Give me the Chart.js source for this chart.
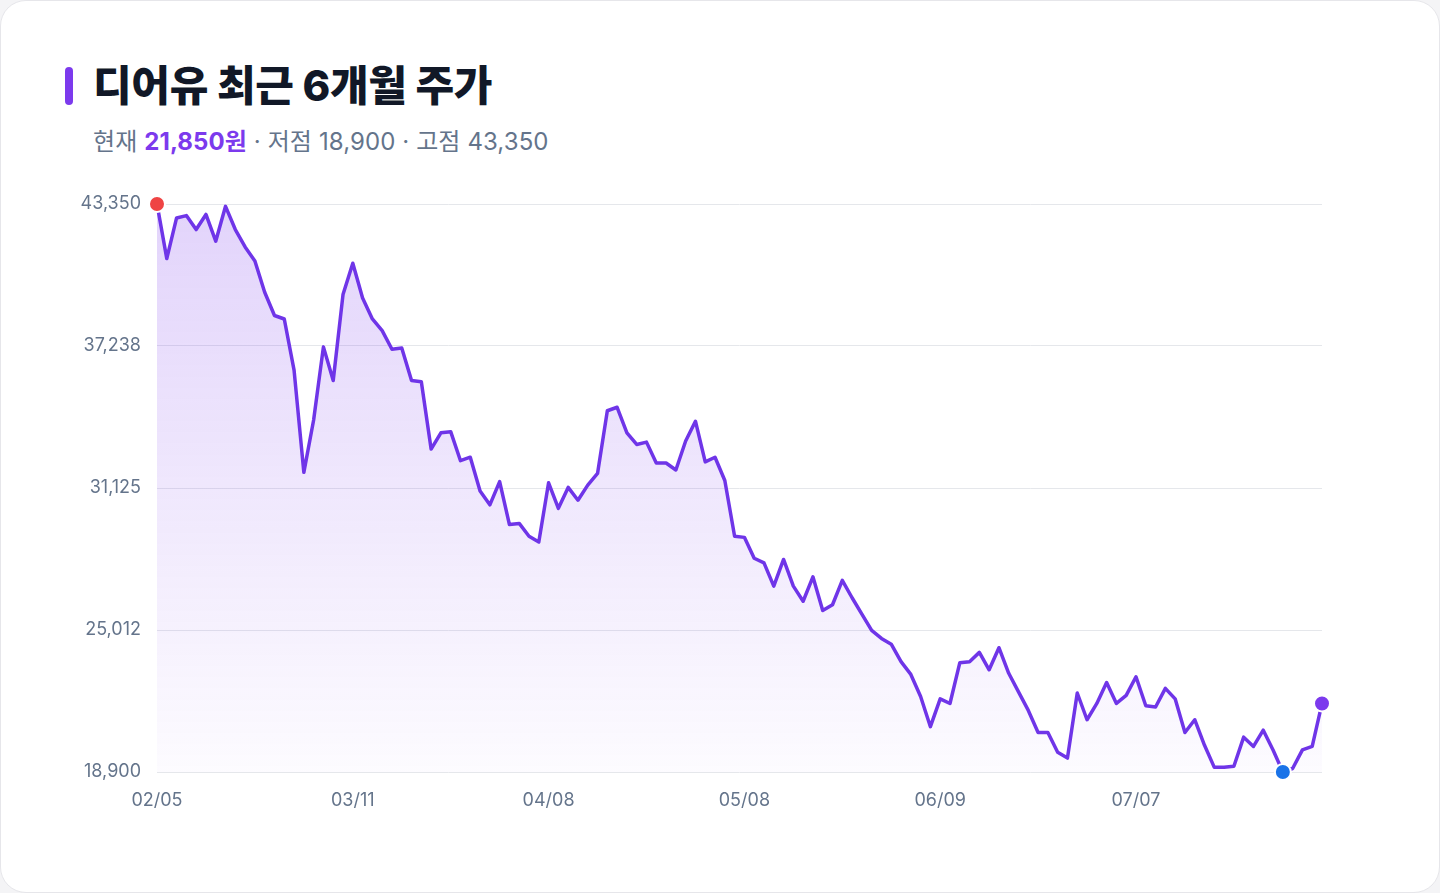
<!DOCTYPE html>
<html lang="ko">
<head>
<meta charset="utf-8">
<script src="https://cdn.jsdelivr.net/npm/chart.js@4.4.1/dist/chart.umd.min.js"></script>
<style>
  html, body { margin: 0; padding: 0; background: #f4f4f6; }
  body { width: 1440px; height: 893px; overflow: hidden; font-family: Inter, "Noto Sans CJK KR", sans-serif; }
  .card { position: absolute; left: 0; top: 0; width: 1438px; height: 891px; background: #fff;
          border: 1px solid #e6e6ea; border-radius: 26px; }
  .bar { position: absolute; left: 65px; top: 67px; width: 8px; height: 38px; border-radius: 4px; background: #7c3aed; }
  h1 { position: absolute; left: 93px; top: 57px; margin: 0; font-size: 42px; line-height: 58px; font-weight: 800;
       color: #111827; letter-spacing: -0.3px; font-family: Inter, "Noto Sans CJK KR", sans-serif; }
  .sub { position: absolute; left: 93px; top: 125px; margin: 0; font-size: 24px; line-height: 34px; color: #64748b; letter-spacing: 0.1px; }
  .sub b { color: #7c3aed; font-weight: 700; }
  .wrap { position: absolute; left: 0; top: 0; width: 1440px; height: 893px; }
</style>
</head>
<body>
<div class="card"></div>
<div class="bar"></div>
<h1>디어유 최근 6개월 주가</h1>
<p class="sub">현재 <b>21,850원</b> · 저점 18,900 · 고점 43,350</p>
<div class="wrap"><canvas id="priceChart"></canvas></div>
<script>
// 종가 (120 거래일)
const prices = [
  43350, 41000, 42750, 42850, 42250, 42900, 41750, 43250, 42250, 41500,
  40900, 39550, 38550, 38400, 36200, 31800, 34050, 37200, 35750, 39450,
  40800, 39300, 38400, 37900, 37100, 37150, 35750, 35700, 32800, 33500,
  33550, 32300, 32450, 31000, 30400, 31400, 29550, 29600, 29050, 28800,
  31350, 30250, 31150, 30600, 31250, 31750, 34450, 34600, 33500, 33000,
  33100, 32200, 32200, 31900, 33150, 34000, 32250, 32450, 31450, 29050,
  29000, 28100, 27900, 26900, 28050, 26900, 26250, 27300, 25850, 26100,
  27150, 26400, 25700, 25000, 24650, 24400, 23650, 23100, 22150, 20850,
  22050, 21850, 23600, 23650, 24050, 23300, 24250, 23150, 22350, 21550,
  20600, 20600, 19750, 19500, 22300, 21150, 21850, 22750, 21850, 22200,
  23000, 21750, 21700, 22500, 22050, 20600, 21150, 20050, 19100, 19100,
  19150, 20400, 20000, 20700, 19850, 18900, 19050, 19850, 20000, 21850
];
// x축 표시 날짜 (20거래일 간격)
const tickLabels = ['02/05', '03/11', '04/08', '05/08', '06/09', '07/07'];
const tickEvery = 20;
// y축 눈금
const yTicks = [18900, 25012, 31125, 37238, 43350];
// 표시 점: 고점, 저점, 현재
const markIndex = [0, 115, 119];
const markColor = ['#ef4444', '#1a73e8', '#7c3aed'];

const labels = prices.map((p, i) => i);
const markData = prices.map((p, i) => markIndex.includes(i) ? p : null);

function fillGradient(context) {
  const area = context.chart.chartArea;
  if (!area) return 'rgba(124,58,237,0.15)';
  const g = context.chart.ctx.createLinearGradient(0, area.top, 0, area.bottom);
  g.addColorStop(0, 'rgba(124,58,237,0.22)');
  g.addColorStop(1, 'rgba(124,58,237,0.02)');
  return g;
}

const data = {
  labels: labels,
  datasets: [
    {
      label: '표시',
      data: markData,
      order: 0,
      clip: false,
      showLine: false,
      pointRadius: 8,
      pointBorderWidth: 2,
      pointBorderColor: '#ffffff',
      pointBackgroundColor: ctx => markColor[markIndex.indexOf(ctx.dataIndex)] || 'transparent'
    },
    {
      label: '종가',
      data: prices,
      order: 1,
      borderColor: '#6f35e8',
      borderWidth: 3.5,
      borderJoinStyle: 'round',
      pointRadius: 0,
      tension: 0,
      fill: 'start',
      backgroundColor: fillGradient
    }
  ]
};

const config = {
  type: 'line',
  data: data,
  options: {
    responsive: true,
    maintainAspectRatio: false,
    animation: false,
    layout: { padding: { left: 40, top: 204, right: 118, bottom: 71 } },
    plugins: { legend: { display: false }, tooltip: { enabled: false } },
    scales: {
      x: {
        type: 'category',
        offset: false,
        grid: { display: false, drawTicks: false },
        border: { display: false },
        afterFit: s => { s.height = 50; },
        ticks: {
          autoSkip: false,
          maxRotation: 0,
          padding: 18,
          color: '#64748b',
          font: { family: 'Inter, "Noto Sans CJK KR"', size: 18 },
          callback: (v, i) => i % tickEvery === 0 ? tickLabels[i / tickEvery] : ''
        }
      },
      y: {
        min: yTicks[0],
        max: yTicks[yTicks.length - 1],
        afterFit: s => { s.width = 117; },
        afterBuildTicks: s => { s.ticks = yTicks.map(v => ({ value: v })); },
        grid: { color: '#e5e7eb', drawTicks: false, lineWidth: 1 },
        border: { display: false },
        ticks: {
          padding: 16,
          color: '#64748b',
          font: { family: 'Inter, "Noto Sans CJK KR"', size: 18 },
          callback: v => v.toLocaleString('en-US')
        }
      }
    }
  }
};

const myChart = new Chart(document.getElementById('priceChart'), config);
</script>
</body>
</html>
